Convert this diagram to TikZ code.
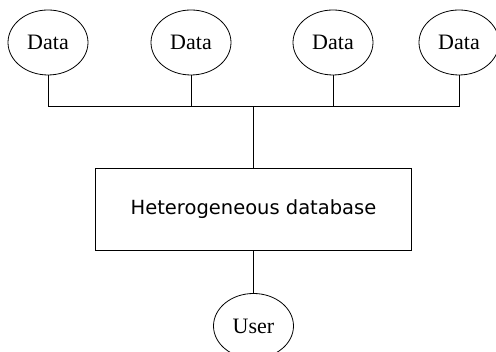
\documentclass[tikz,border=0pt]{standalone}
\usepackage{fontspec}
\setmainfont{Liberation Serif}
\newfontfamily\boxfont{DejaVu Sans}
\usetikzlibrary{shapes.geometric}
\begin{document}
\begin{tikzpicture}[x=1pt,y=1pt,
  line width=0.8pt,
  source/.style={draw,ellipse,minimum width=80pt,minimum height=65pt,inner sep=0pt,font=\fontsize{22}{26}\selectfont},
  store/.style={draw,rectangle,minimum width=316pt,minimum height=82pt,inner sep=0pt,font=\boxfont\fontsize{19.5}{23}\selectfont}]
\useasboundingbox (0,0) rectangle (496,352);
\clip (0,0) rectangle (496,352);
% data sources along the top
\node[source] (d1) at (48,309.5) {Data};
\node[source] (d2) at (191,309.5) {Data};
\node[source] (d3) at (333,309.5) {Data};
\node[source] (d4) at (459,309.5) {Data};
% central store and its user
\node[store] (db) at (253.5,143) {Heterogeneous database};
\node[source] (u) at (253.5,26) {User};
% shared bus joining the sources
\coordinate (b1) at (48,245.5);
\coordinate (b4) at (459,245.5);
\coordinate (bm) at (db.north |- b1);
\draw (d1.south) -- (b1) -- (b4) -- (d4.south);
\draw (d2.south) -- (d2.south |- b1);
\draw (d3.south) -- (d3.south |- b1);
\draw (bm) -- (db.north);
\draw (db.south) -- (u.north);
\end{tikzpicture}
\end{document}
